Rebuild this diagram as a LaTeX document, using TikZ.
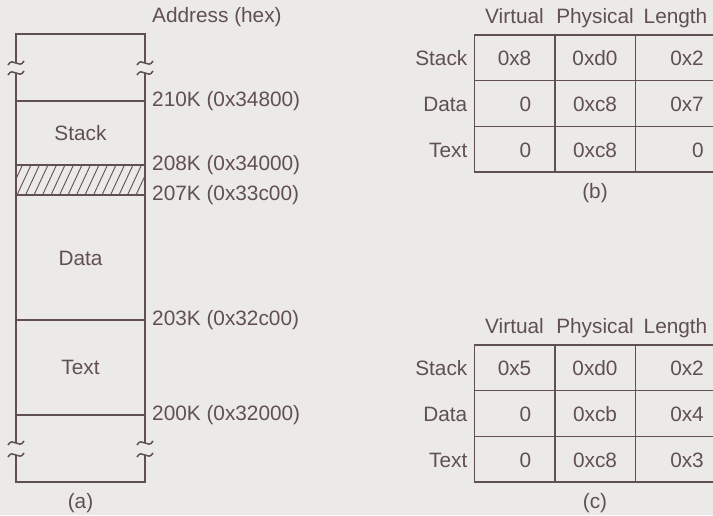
\documentclass[tikz,border=0pt]{standalone}
\usepackage{fontspec}
\setmainfont{Liberation Sans}
\usetikzlibrary{positioning}
\definecolor{ink}{RGB}{96,80,80}
\definecolor{paper}{RGB}{236,234,232}

% break mark on a vertical edge of the memory column
\newcommand{\brkmark}[2]{%
  \draw[edge] (#1-8,#2+2) .. controls (#1-3,#2-7) and (#1+3,#2+7) .. (#1+8,#2-2);}

\begin{document}
\begin{tikzpicture}[x=1pt, y=-1pt,
    every node/.style={text=ink, inner sep=0pt, font=\fontsize{20.8}{25}\selectfont},
    edge/.style={draw=ink, line width=1.5pt},
    hatch/.style={draw=ink, line width=0.9pt},
    cell/.style={draw=ink, line width=1.5pt, minimum width=80.5pt, minimum height=45.7pt},
    addr/.style={anchor=west}]
    \useasboundingbox (0,0) rectangle (713,515);
    \fill[paper] (0,0) rectangle (713,515);
    \clip (0,0) rectangle (713,515);

    % (a) memory layout
    \draw[edge] (16,63) -- (16,34) -- (145,34) -- (145,63);
    \draw[edge] (16,73) -- (16,443);
    \draw[edge] (145,73) -- (145,443);
    \draw[edge] (16,455) -- (16,482) -- (145,482) -- (145,455);
    \foreach \x in {16,145}
        \foreach \y in {63,73,443,455}
            \brkmark{\x}{\y}
    \foreach \y in {101,165,195,320,415}
        \draw[edge] (16,\y) -- (145,\y);
    \begin{scope}
        \clip (16,165) rectangle (145,195);
        \foreach \x in {0,8.5,...,160}
            \draw[hatch] (\x,195) -- (\x+14,165);
    \end{scope}

    \node (stack) at (80.5,133) {Stack};
    \node (data)  at (80.5,258) {Data};
    \node (text)  at (80.5,367) {Text};
    \node (capa)  at (80.5,503) {(a)};
    \node[addr] (hex) at (152,17) {Address (hex)};
    \foreach \y/\k/\lab in {101/210/210K (0x34800), 165/208/208K (0x34000),
                            195/207/207K (0x33c00), 320/203/203K (0x32c00),
                            415/200/200K (0x32000)}
        \node[addr] (a\k) at (152,\y) {\lab};

    % (b) and (c) segment tables
    \foreach \t/\y in {b/35, c/345}
        \foreach \r in {0,1,2}
            \foreach \c in {0,1,2}
                \node[cell] (\t-\r-\c) at (514.5+80.5*\c, \y+22.85+45.7*\r) {};

    \foreach \t in {b,c} {
        \node[anchor=base] (\t-virt) at ([yshift=11pt]\t-0-0.north) {Virtual};
        \node[anchor=base] (\t-phys) at ([yshift=11pt]\t-0-1.north) {Physical};
        \node[anchor=base] (\t-len)  at ([yshift=11pt]\t-0-2.north) {Length};
        \foreach \r/\seg in {0/Stack, 1/Data, 2/Text}
            \node[anchor=base east] (\t-\seg) at ([xshift=-6pt,yshift=-8pt]\t-\r-0.west) {\seg};
    }

    \foreach \t/\r/\va/\vb/\vc in {b/0/0x8/0xd0/0x2, b/1/0/0xc8/0x7, b/2/0/0xc8/0,
                                   c/0/0x5/0xd0/0x2, c/1/0/0xcb/0x4, c/2/0/0xc8/0x3} {
        \node[anchor=base east] (\t-v\r) at ([xshift=-24pt,yshift=-8pt]\t-\r-0.east) {\va};
        \node[anchor=base]      (\t-p\r) at ([yshift=-8pt]\t-\r-1.center) {\vb};
        \node[anchor=base east] (\t-l\r) at ([xshift=-12.5pt,yshift=-8pt]\t-\r-2.east) {\vc};
    }

    \node (capb) at (595,193) {(b)};
    \node (capc) at (595,503) {(c)};
\end{tikzpicture}
\end{document}
